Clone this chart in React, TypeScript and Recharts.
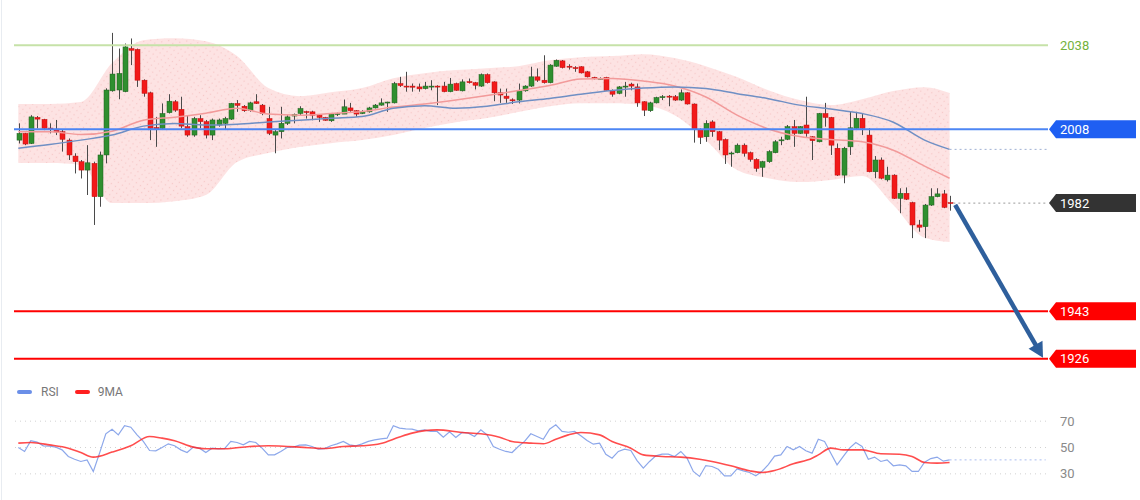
import { ComposedChart, Area, Bar, Line, XAxis, YAxis, ReferenceLine } from 'recharts'

// ---- candles, one per bar, left to right ----
const OPEN = [
  2004.1, 2006.5, 2002.9, 2012.2, 2011.5, 2008.4, 2008.0, 2007.1, 2004.1, 1998.4,
  1996.4, 1993.4, 1995.8, 1983.9, 1998.8, 2021.7, 2022.0, 2021.4, 2036.8, 2036.5,
  2025.5, 2021.0, 2008.6, 2008.3, 2013.9, 2017.8, 2015.1, 2008.9, 2005.9, 2011.8,
  2010.7, 2005.9, 2009.5, 2010.1, 2011.6, 2017.2, 2016.2, 2014.6, 2017.8, 2016.6,
  2011.8, 2005.9, 2007.1, 2010.1, 2012.7, 2013.6, 2014.3, 2014.2, 2013.0, 2012.2,
  2011.0, 2013.5, 2013.4, 2015.6, 2014.6, 2013.6, 2014.2, 2015.6, 2016.6, 2017.6,
  2017.4, 2024.3, 2023.4, 2023.4, 2023.1, 2022.5, 2023.3, 2023.4, 2023.4, 2021.4,
  2024.3, 2021.7, 2025.0, 2024.6, 2023.4, 2027.5, 2024.9, 2021.0, 2019.8, 2018.5,
  2018.4, 2021.7, 2023.4, 2026.7, 2025.5, 2024.6, 2030.5, 2032.4, 2030.5, 2030.0,
  2030.3, 2028.5, 2026.5, 2026.0, 2026.5, 2021.9, 2020.8, 2023.3, 2024.1, 2023.1,
  2017.8, 2014.6, 2017.4, 2019.5, 2019.8, 2019.6, 2018.4, 2021.0, 2017.0, 2007.9,
  2005.3, 2010.6, 2007.1, 2004.3, 1999.4, 1999.6, 2002.3, 1999.6, 1997.2, 1994.4,
  1996.4, 1999.6, 2004.0, 2004.4, 2008.9, 2006.5, 2009.5, 2005.3, 2003.5, 2013.6,
  2012.2, 2001.2, 1991.6, 2001.7, 2008.3, 2011.9, 2005.9, 1992.8, 1997.0, 1989.9,
  1991.6, 1983.3, 1985.1, 1981.8, 1973.8, 1973.2, 1980.9, 1983.9, 1984.9, 1981.8,
]
const HIGH = [
  2010.1, 2006.7, 2013.0, 2012.7, 2011.7, 2010.1, 2011.3, 2007.7, 2004.7, 1999.4,
  1997.0, 2002.3, 1996.4, 2000.0, 2022.6, 2042.4, 2036.8, 2038.6, 2040.4, 2036.8,
  2025.8, 2021.4, 2012.4, 2017.2, 2020.5, 2018.4, 2019.6, 2013.0, 2012.4, 2013.0,
  2011.3, 2011.8, 2011.8, 2012.4, 2017.4, 2018.4, 2016.6, 2017.8, 2020.5, 2017.0,
  2016.0, 2007.7, 2016.0, 2013.0, 2013.6, 2016.2, 2014.6, 2014.6, 2013.4, 2012.4,
  2013.6, 2013.9, 2018.6, 2017.4, 2014.8, 2014.8, 2016.0, 2017.0, 2019.0, 2017.8,
  2024.9, 2026.7, 2028.5, 2024.3, 2024.3, 2024.9, 2025.5, 2023.7, 2024.9, 2026.3,
  2024.6, 2025.8, 2026.1, 2024.9, 2027.9, 2027.9, 2025.1, 2022.5, 2022.5, 2019.0,
  2024.3, 2023.7, 2030.3, 2029.7, 2034.4, 2031.2, 2032.9, 2032.7, 2031.2, 2030.5,
  2030.5, 2028.8, 2026.7, 2026.5, 2026.7, 2022.2, 2023.4, 2024.9, 2024.6, 2024.3,
  2018.0, 2017.8, 2019.6, 2020.2, 2020.2, 2020.2, 2022.2, 2021.2, 2017.2, 2008.3,
  2011.2, 2011.2, 2007.4, 2004.7, 2000.0, 2002.9, 2002.9, 2000.0, 1997.6, 1996.7,
  2000.5, 2004.1, 2005.3, 2009.5, 2011.3, 2009.1, 2019.6, 2005.5, 2013.8, 2017.4,
  2012.4, 2002.9, 2001.7, 2014.2, 2014.2, 2013.6, 2008.3, 1998.4, 1997.9, 1994.6,
  1991.9, 1986.9, 1987.2, 1982.1, 1975.6, 1981.3, 1986.9, 1986.9, 1986.3, 1984.2,
]
const LOW = [
  2002.9, 2002.3, 2002.7, 2008.3, 2007.7, 2006.5, 2005.9, 2000.0, 1997.0, 1992.2,
  1990.4, 1984.5, 1973.8, 1980.3, 1995.8, 2021.4, 2018.7, 2021.2, 2030.9, 2023.1,
  2019.6, 2004.1, 2001.7, 2007.7, 2013.6, 2014.2, 2008.3, 2005.3, 2005.3, 2008.3,
  2004.7, 2004.1, 2008.9, 2007.7, 2011.3, 2014.2, 2014.2, 2014.2, 2017.0, 2013.0,
  2005.9, 1999.4, 2004.7, 2009.5, 2010.1, 2013.0, 2011.8, 2011.2, 2010.6, 2011.0,
  2010.6, 2012.7, 2013.4, 2014.2, 2012.4, 2013.4, 2013.9, 2015.4, 2016.4, 2014.2,
  2017.2, 2023.1, 2021.4, 2021.4, 2021.4, 2022.2, 2021.9, 2016.6, 2021.2, 2021.2,
  2021.7, 2021.5, 2024.3, 2022.2, 2023.1, 2024.3, 2018.0, 2017.4, 2017.4, 2017.0,
  2017.2, 2021.4, 2023.1, 2024.9, 2024.3, 2024.4, 2030.3, 2029.7, 2029.3, 2028.5,
  2027.9, 2026.5, 2025.8, 2025.8, 2021.7, 2019.6, 2020.5, 2019.6, 2021.9, 2016.0,
  2012.7, 2014.2, 2017.2, 2018.4, 2016.2, 2018.1, 2018.1, 2016.8, 2003.2, 2002.7,
  2003.5, 2005.3, 2000.5, 1995.6, 1994.6, 1999.4, 1998.2, 1996.4, 1992.8, 1991.0,
  1996.0, 1999.4, 2002.3, 2004.1, 2001.7, 2006.3, 2005.3, 1997.0, 2003.3, 2008.9,
  1998.8, 1991.3, 1988.7, 1998.8, 2007.7, 2005.9, 1992.6, 1990.5, 1990.1, 1989.3,
  1983.1, 1978.0, 1982.7, 1969.1, 1971.4, 1969.1, 1980.6, 1983.7, 1979.8, 1978.9,
]
const CLOSE = [
  2006.5, 2002.7, 2012.4, 2011.6, 2008.3, 2008.3, 2007.0, 2004.4, 1998.8, 1996.4,
  1993.4, 1996.0, 1983.9, 1998.8, 2022.0, 2027.7, 2027.9, 2037.4, 2036.2, 2025.5,
  2020.8, 2008.3, 2008.0, 2013.6, 2018.0, 2014.8, 2009.1, 2005.9, 2011.8, 2010.7,
  2005.9, 2011.3, 2011.3, 2011.8, 2017.2, 2016.5, 2014.6, 2017.4, 2017.2, 2013.6,
  2006.5, 2007.1, 2010.1, 2012.4, 2013.3, 2015.4, 2014.2, 2013.0, 2012.2, 2011.2,
  2013.4, 2013.6, 2016.0, 2014.6, 2013.4, 2014.2, 2015.6, 2016.6, 2017.4, 2017.7,
  2024.3, 2023.6, 2023.3, 2023.0, 2022.4, 2023.4, 2023.4, 2023.3, 2021.4, 2024.1,
  2021.9, 2024.9, 2024.6, 2023.7, 2027.5, 2024.6, 2021.0, 2020.2, 2019.0, 2018.4,
  2021.9, 2023.4, 2026.7, 2025.5, 2024.6, 2030.9, 2032.6, 2030.0, 2030.4, 2029.9,
  2028.1, 2026.7, 2026.0, 2026.2, 2021.9, 2020.5, 2023.1, 2023.4, 2023.4, 2017.4,
  2014.8, 2017.4, 2019.3, 2019.6, 2019.7, 2018.4, 2021.0, 2017.0, 2007.9, 2005.1,
  2010.1, 2007.1, 2004.1, 1998.8, 1999.5, 2002.3, 1999.4, 1997.2, 1994.0, 1996.4,
  2000.0, 2003.5, 2004.2, 2008.9, 2006.5, 2008.9, 2006.5, 2003.9, 2013.6, 2012.2,
  2002.3, 1991.6, 2001.2, 2008.5, 2011.9, 2008.3, 1992.8, 1997.0, 1990.5, 1991.6,
  1983.3, 1985.1, 1983.0, 1973.8, 1973.0, 1980.9, 1983.9, 1984.9, 1980.1, 1981.6,
]

// ---- bollinger band and the two moving averages, read every 5th bar ----
const BAND_IDX = [0, 5, 10, 15, 20, 25, 30, 35, 40, 45, 50, 55, 60, 65, 70, 75, 80, 85, 90, 95, 100, 105, 110, 115, 120, 125, 130, 135, 140, 145, 149]
const BB_UPPER = [2017.0, 2017.0, 2017.7, 2031.6, 2039.8, 2040.5, 2039.4, 2034.1, 2022.7, 2019.8, 2021.2, 2022.7, 2026.2, 2028.0, 2029.1, 2029.8, 2030.5, 2032.6, 2033.7, 2034.1, 2034.8, 2033.4, 2030.5, 2026.6, 2021.9, 2018.4, 2016.6, 2018.7, 2021.6, 2023.0, 2020.9]
const BB_LOWER = [1995.9, 1995.9, 1995.2, 1981.6, 1981.6, 1982.3, 1984.5, 1996.3, 1999.5, 2001.6, 2003.0, 2004.1, 2005.9, 2008.4, 2010.5, 2012.0, 2014.1, 2016.2, 2017.3, 2017.3, 2016.6, 2013.0, 2004.1, 1993.4, 1990.5, 1989.1, 1989.9, 1991.3, 1980.9, 1969.2, 1967.7]
const MA_FAST = [2007.1, 2007.1, 2006.1, 2007.3, 2011.2, 2012.3, 2013.7, 2015.5, 2013.4, 2013.0, 2013.6, 2014.3, 2015.9, 2017.0, 2018.4, 2020.0, 2021.8, 2023.6, 2025.9, 2026.1, 2025.2, 2023.4, 2019.5, 2013.0, 2008.1, 2005.4, 2004.3, 2003.5, 2000.5, 1994.8, 1990.5]
const MA_SLOW = [2001.2, 2002.5, 2004.1, 2005.9, 2009.1, 2010.0, 2009.5, 2009.8, 2010.6, 2011.2, 2011.9, 2012.5, 2015.5, 2016.4, 2015.5, 2016.2, 2017.8, 2019.0, 2020.5, 2021.8, 2022.7, 2023.1, 2022.5, 2020.7, 2018.9, 2016.6, 2015.2, 2013.6, 2010.5, 2004.1, 2000.8]

// ---- RSI panel ----
const RSI = [
  50.0, 47.0, 55.1, 54.1, 51.3, 51.0, 50.3, 48.2, 43.2, 41.1,
  39.4, 40.6, 31.8, 45.7, 60.4, 63.9, 59.6, 66.5, 65.4, 59.6,
  54.6, 47.7, 47.5, 50.0, 52.8, 51.3, 48.2, 46.2, 50.3, 49.5,
  46.2, 49.5, 49.0, 49.2, 54.6, 53.8, 52.0, 54.6, 53.8, 49.5,
  44.4, 44.4, 47.0, 50.0, 50.3, 51.8, 52.0, 50.8, 48.7, 49.2,
  51.3, 52.8, 54.6, 52.0, 51.3, 52.8, 54.6, 55.8, 56.6, 57.1,
  66.5, 64.7, 64.2, 63.9, 62.7, 63.4, 62.2, 62.2, 57.8, 61.9,
  57.6, 61.4, 60.9, 58.4, 63.4, 59.6, 50.8, 48.7, 47.0, 46.2,
  50.8, 54.6, 60.4, 58.4, 56.3, 63.9, 67.2, 62.2, 61.6, 62.2,
  58.9, 55.3, 52.5, 53.3, 44.9, 41.9, 47.0, 48.7, 47.7, 40.1,
  34.3, 39.4, 43.7, 44.9, 44.9, 43.2, 47.0, 41.9, 31.8, 28.0,
  36.3, 35.6, 33.5, 28.5, 28.5, 33.8, 32.3, 31.0, 28.5, 32.0,
  37.0, 43.5, 44.4, 50.8, 48.2, 50.8, 47.5, 45.7, 56.3, 54.6,
  45.7, 36.8, 43.2, 49.5, 53.8, 50.8, 41.1, 42.7, 39.4, 40.6,
  36.1, 36.8, 36.1, 31.8, 31.8, 38.9, 41.6, 42.7, 39.6, 40.6,
]
const RSI_MA_IDX = [0, 2, 5, 8, 10, 12, 15, 18, 21, 23, 25, 28, 30, 33, 37, 40, 43, 45, 49, 52, 55, 58, 61, 63, 67, 71, 74, 77, 79, 82, 84, 86, 88, 90, 93, 95, 98, 100, 103, 106, 109, 111, 114, 117, 119, 121, 124, 127, 128, 130, 132, 135, 138, 141, 143, 145, 147, 149]
const RSI_MA = [53.3, 53.8, 52.0, 49.5, 46.2, 42.7, 46.5, 51.3, 58.4, 57.1, 55.1, 50.3, 49.0, 49.0, 50.8, 51.3, 50.8, 50.3, 49.2, 50.8, 51.3, 53.0, 58.0, 60.9, 63.4, 61.4, 60.4, 57.8, 54.6, 53.3, 52.8, 56.3, 59.6, 61.4, 59.6, 54.6, 49.5, 44.4, 43.2, 42.7, 41.1, 39.4, 36.1, 32.3, 31.0, 32.5, 37.6, 41.9, 44.4, 49.5, 48.2, 48.2, 45.2, 44.9, 43.2, 38.6, 38.1, 38.6]
const RSI_TICKS = [30, 50, 70]

// ---- drawn levels ----
const TARGET_LEVEL = 2038
const PIVOT_LEVEL = 2008
const SUPPORT_LEVELS = [1943, 1926]
const ARROW_FROM = { x: 149.9, y: 1981.0 }
const ARROW_TO = { x: 163.95, y: 1926.4 }

const X_MIN = -0.69
const X_MAX = 164.75
const RSI_X_MAX = 164.43

const GREEN = '#2f8f2f'
const RED = '#f21a1a'
const ARROW = '#2e5f9c'
const FONT = 'Roboto, Arial, sans-serif'

const rows = OPEN.map((open, i) => ({
  i,
  open,
  high: HIGH[i],
  low: LOW[i],
  close: CLOSE[i],
  range: [LOW[i], HIGH[i]],
  band: null as number[] | null,
  maFast: null as number | null,
  maSlow: null as number | null,
  rsi: RSI[i],
  rsiMa: null as number | null,
}))
BAND_IDX.forEach((idx, k) => {
  rows[idx].band = [BB_LOWER[k], BB_UPPER[k]]
  rows[idx].maFast = MA_FAST[k]
  rows[idx].maSlow = MA_SLOW[k]
})
RSI_MA_IDX.forEach((idx, k) => {
  rows[idx].rsiMa = RSI_MA[k]
})
const last = rows[rows.length - 1]

function Candle(props: any) {
  const { x, y, width, height, payload } = props
  if (!payload || y == null || height == null) return null
  const { open, close, high, low } = payload
  const cx = Math.round(x + width / 2) + 0.5
  const k = high === low ? 0 : height / (high - low)
  const py = (p: number) => y + (high - p) * k
  const top = py(Math.max(open, close))
  const bot = py(Math.min(open, close))
  const up = close >= open
  return (
    <g>
      <line x1={cx} x2={cx} y1={y} y2={y + height} stroke="#4a4a4a" strokeWidth={1} />
      <rect
        x={cx - 2.5}
        y={top}
        width={5}
        height={Math.max(1, bot - top)}
        fill={up ? GREEN : RED}
        stroke={up ? '#1f5f1f' : '#c01010'}
        strokeWidth={0.5}
      />
    </g>
  )
}

// tag on the right end of a horizontal level
const tag = (text: string, fill: string | null, color = '#fff') => (p: any) => {
  const vb = p.viewBox || {}
  const x0 = (vb.x || 0) + (vb.width || 0)
  const yc = vb.y || 0
  return (
    <g>
      {fill && (
        <path d={`M${x0 + 1},${yc} L${x0 + 8},${yc - 9} H${x0 + 88} V${yc + 9} H${x0 + 8} Z`} fill={fill} />
      )}
      <text x={x0 + 12} y={yc + 4.5} fill={color} fontSize={13} fontFamily={FONT}>
        {text}
      </text>
    </g>
  )
}

function Arrow(p: any) {
  const { x1, y1, x2, y2 } = p
  const dx = x2 - x1
  const dy = y2 - y1
  const len = Math.hypot(dx, dy) || 1
  const ux = dx / len
  const uy = dy / len
  const head = 15
  const half = 8
  const bx = x2 - ux * head
  const by = y2 - uy * head
  return (
    <g>
      <line x1={x1} y1={y1} x2={bx + ux * 2} y2={by + uy * 2} stroke={ARROW} strokeWidth={4.5} />
      <polygon
        points={`${x2},${y2} ${bx - uy * half},${by + ux * half} ${bx + uy * half},${by - ux * half}`}
        fill={ARROW}
      />
    </g>
  )
}

export default function App() {
  return (
    <div style={{ position: 'absolute', left: 0, top: 0, width: 1140, height: 500, background: '#fff', fontFamily: FONT }}>
      <div style={{ position: 'absolute', left: 1, top: 0, width: 1, height: 500, background: '#e8ecf1' }} />

      {/* price panel */}
      <div style={{ position: 'absolute', left: 0, top: 0 }}>
        <ComposedChart width={1140} height={380} data={rows} margin={{ top: 20, right: 92, bottom: 10, left: 14 }}>
          <defs>
            <pattern id="bbDots" width="5" height="5" patternUnits="userSpaceOnUse" patternTransform="rotate(35)">
              <rect width="5" height="5" fill="#fde3e3" />
              <circle cx="1.5" cy="1.5" r="0.7" fill="#f6c8c8" />
            </pattern>
          </defs>
          <XAxis type="number" dataKey="i" hide domain={[X_MIN, X_MAX]} allowDataOverflow />
          <YAxis hide domain={[1922, 2047]} allowDataOverflow />

          <Area dataKey="band" type="monotone" connectNulls stroke="none" fill="url(#bbDots)" fillOpacity={1} isAnimationActive={false} />
          <Line dataKey="maFast" type="monotone" connectNulls stroke="#f29a9a" strokeWidth={1.5} dot={false} isAnimationActive={false} />
          <Line dataKey="maSlow" type="monotone" connectNulls stroke="#6f8fc4" strokeWidth={1.5} dot={false} isAnimationActive={false} />

          <ReferenceLine y={TARGET_LEVEL} stroke="#c6e2a8" strokeWidth={2} label={tag(String(TARGET_LEVEL), null, '#74b23c')} />
          <ReferenceLine y={PIVOT_LEVEL} stroke="#4d86f4" strokeWidth={2} label={tag(String(PIVOT_LEVEL), '#1f5ff2')} />
          {SUPPORT_LEVELS.map(v => (
            <ReferenceLine key={v} y={v} stroke="#ff0000" strokeWidth={2} label={tag(String(v), '#ff0000')} />
          ))}
          <ReferenceLine
            segment={[{ x: 149, y: MA_SLOW[MA_SLOW.length - 1] }, { x: X_MAX - 0.05, y: MA_SLOW[MA_SLOW.length - 1] }]}
            stroke="#9fb1d3"
            strokeDasharray="2 3"
          />
          <ReferenceLine
            segment={[{ x: 149.6, y: last.close }, { x: X_MAX - 0.05, y: last.close }]}
            stroke="#9a9a9a"
            strokeDasharray="2 3"
          />
          <ReferenceLine y={last.close} stroke="none" strokeOpacity={0} label={tag(String(Math.round(last.close)), '#333333')} />

          <Bar dataKey="range" barSize={5} shape={Candle} isAnimationActive={false} />

          <ReferenceLine segment={[ARROW_FROM, ARROW_TO]} shape={Arrow} />
        </ComposedChart>
      </div>

      {/* RSI legend */}
      <div style={{ position: 'absolute', left: 17, top: 385, display: 'flex', alignItems: 'center', fontSize: 12, color: '#777', lineHeight: '14px' }}>
        <span style={{ display: 'inline-block', width: 15, height: 3.5, borderRadius: 2, background: '#6b8fe8' }} />
        <span style={{ marginLeft: 9 }}>RSI</span>
        <span style={{ display: 'inline-block', width: 15, height: 3.5, borderRadius: 2, background: '#ff2020', marginLeft: 16 }} />
        <span style={{ marginLeft: 8 }}>9MA</span>
      </div>

      {/* RSI panel */}
      <div style={{ position: 'absolute', left: 0, top: 380 }}>
        <ComposedChart width={1140} height={120} data={rows} margin={{ top: 28, right: 0, bottom: 13, left: 14 }}>
          <XAxis type="number" dataKey="i" hide domain={[X_MIN, RSI_X_MAX]} allowDataOverflow />
          <YAxis
            orientation="right"
            width={94}
            domain={[20, 80]}
            ticks={RSI_TICKS}
            interval={0}
            allowDataOverflow
            axisLine={false}
            tickLine={false}
            tickMargin={8}
            tick={{ fill: '#8a8a8a', fontSize: 13, fontFamily: FONT }}
          />
          {RSI_TICKS.map(t => (
            <ReferenceLine key={t} y={t} stroke="#d2d2d2" strokeDasharray="1 4" />
          ))}
          <ReferenceLine
            segment={[{ x: 149, y: last.rsi }, { x: RSI_X_MAX - 0.05, y: last.rsi }]}
            stroke="#a9bdf0"
            strokeDasharray="2 3"
          />
          <Line dataKey="rsi" type="linear" stroke="#7898e6" strokeWidth={1.2} strokeOpacity={0.85} dot={false} isAnimationActive={false} />
          <Line dataKey="rsiMa" type="monotone" connectNulls stroke="#ff2020" strokeWidth={1.6} strokeOpacity={0.8} dot={false} isAnimationActive={false} />
        </ComposedChart>
      </div>
    </div>
  )
}
